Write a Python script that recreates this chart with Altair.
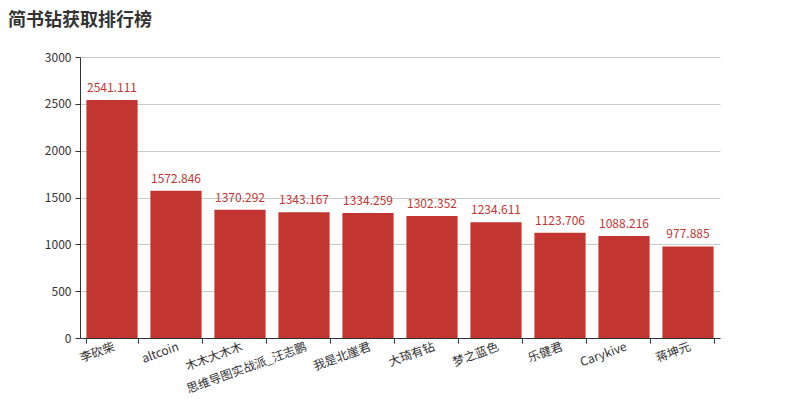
import altair as alt
import pandas as pd

names = ["李砍柴", "altcoin", "木木大木木", "思维导图实战派_汪志鹏", "我是北崖君",
         "大琦有钻", "梦之蓝色", "乐健君", "Carykive", "蒋坤元"]
values = [2541.111, 1572.846, 1370.292, 1343.167, 1334.259,
          1302.352, 1234.611, 1123.706, 1088.216, 977.885]

df = pd.DataFrame({"name": names, "value": values})
df["label"] = [repr(v) for v in values]

FONT = "Noto Sans CJK SC"
RED = "#c23531"

x = alt.X("name:N", sort=names, title=None,
          scale=alt.Scale(paddingInner=0.2, paddingOuter=0.1),
          axis=alt.Axis(labelAngle=-20, labelAlign="right", labelBaseline="top",
                        tickBand="extent", labelOverlap=False, labelLimit=400,
                        labelFont=FONT, labelFontSize=12, labelColor="#333",
                        domainColor="#333", tickColor="#333", tickSize=5,
                        labelPadding=-2, grid=False, labelBound=False))
y = alt.Y("value:Q", title=None,
          scale=alt.Scale(domain=[0, 3000]),
          axis=alt.Axis(values=[0, 500, 1000, 1500, 2000, 2500, 3000], format="d",
                        labelFont=FONT, labelFontSize=12, labelColor="#333",
                        domainColor="#333", tickColor="#333", tickSize=5,
                        labelPadding=4, gridColor="#ccc", domain=True))

bars = alt.Chart(df).mark_bar(color=RED).encode(x=x, y=y)
text = alt.Chart(df).mark_text(color=RED, font=FONT, fontSize=12, dy=-5,
                               baseline="bottom").encode(x=x, y=y, text="label:N")

chart = (bars + text).properties(
    width=640, height=281,
    padding={"left": 72, "top": 49, "right": 72, "bottom": 55},
    autosize=alt.AutoSizeParams(type="none"),
    title=alt.TitleParams("简书钻获取排行榜", anchor="start", frame="group", font=FONT,
                          fontSize=18, fontWeight="bold", color="#333",
                          dx=-72, dy=-17),
).configure_view(stroke=None)

chart.save("out.html", embed_options={"renderer": "svg", "actions": False})
